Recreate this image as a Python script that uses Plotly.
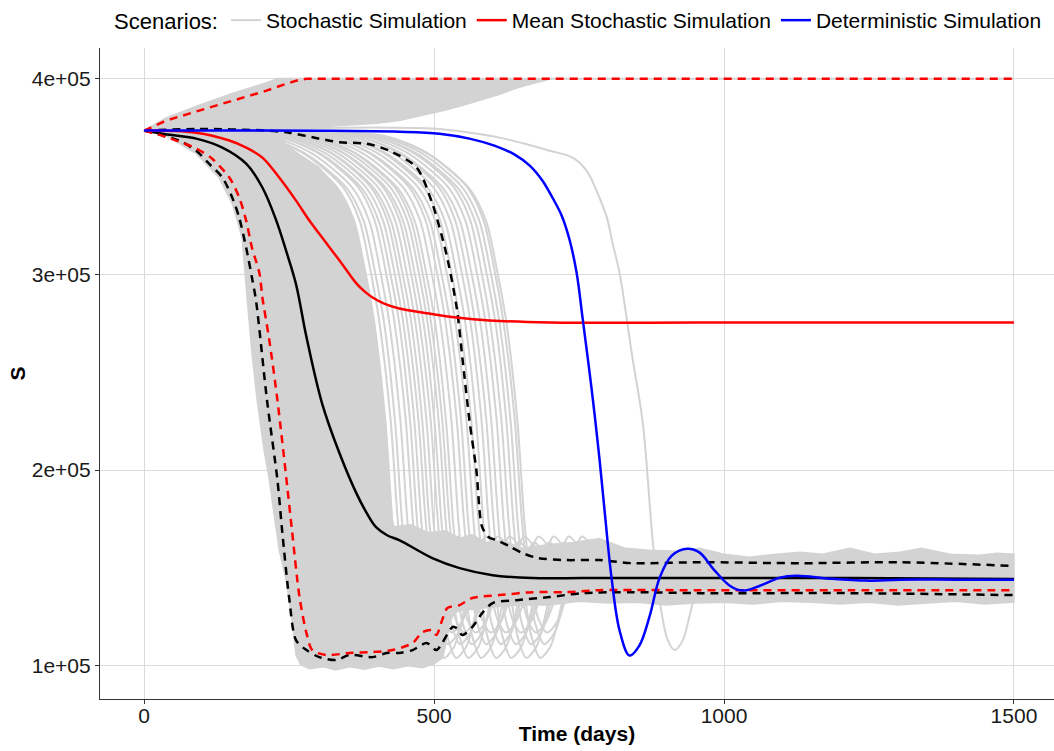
import plotly.graph_objects as go

# ---------------- data (days, S in thousands) ----------------
# Deterministic simulation
det_days = [0, 150, 300, 440, 509, 561, 604, 639, 665, 687, 704, 720, 734, 746, 756, 772, 785, 799,
            806, 820, 837, 854, 872, 889, 910, 937, 958, 984, 1010, 1032, 1062, 1096, 1125, 1182, 1246, 1303,
            1400, 1500]
det_S = [373.5, 373.5, 373.4, 372.9, 371.9, 369.4, 365.8, 361.2, 355.6, 347.9, 339.3, 330.1, 317.3, 300.5,
         278.0, 240.7, 206.5, 164.2, 145.0, 117.9, 105.2, 110.3, 125.6, 145.0, 156.3, 159.8,
         157.8, 148.6, 140.9, 138.4, 140.9, 145.0, 146.0, 144.5, 143.5, 144.0, 144.0, 144.0]

# Mean of stochastic simulations
mean_days = [0, 90, 147, 176, 204, 233, 262, 285, 307, 337, 366, 380, 394, 414, 440, 492, 539, 596, 699, 958,
             1200, 1500]
mean_S = [373.5, 372.4, 368.4, 364.8, 359.7, 349.5, 337.7, 327.5, 318.8, 307.1, 295.4, 291.3, 288.2, 285.1,
          282.6, 280.0, 278.0, 276.5, 275.4, 275.4, 275.4, 275.4]

# Mean quantile band (red dashed)
mean_up_days = [0, 38, 95, 152, 211, 245, 265, 280, 1500]
mean_up_S = [373.5, 378.6, 383.7, 388.8, 393.9, 397.4, 399.2, 400.0, 400.0]
mean_lo_days = [0, 31, 90, 117, 147, 164, 176, 186, 199, 204, 216, 230, 247, 255, 268, 280, 290, 314, 354,
                394, 428, 463, 480, 497, 504, 514, 523, 544, 566, 613, 670, 728, 785, 958, 1217, 1500]
mean_lo_S = [373.5, 370.9, 364.3, 359.2, 349.5, 339.3, 327.5, 313.7, 300.5, 288.2, 266.3, 235.6, 191.2, 169.3,
             135.1, 116.7, 108.0, 105.5, 106.5, 107.0, 108.0, 111.6, 117.2, 118.2, 115.7, 123.3, 129.5, 131.0,
             134.6, 136.1, 137.6, 137.6, 138.6, 138.6, 138.6, 138.6]

# Median of stochastic simulations (black)
med_days = [0, 31, 90, 135, 176, 204, 228, 245, 262, 280, 307, 337, 366, 383, 400, 419, 440, 497, 544, 601,
            670, 756, 842, 958, 1217, 1500]
med_S = [373.5, 371.9, 369.4, 364.8, 356.6, 344.4, 327.5, 312.0, 295.0, 268.0, 234.0, 208.6, 188.2, 178.5,
         170.8, 166.7, 164.2, 155.0, 149.9, 146.3, 144.8, 144.8, 144.8, 144.8, 144.8, 144.3]

# Median quantile band (black dashed)
q_up_days = [0, 95, 211, 250, 300, 337, 383, 423, 470, 497, 521, 539, 549, 561, 573, 583, 595, 608, 630, 653,
             680, 728, 785, 842, 958, 1131, 1303, 1500]
q_up_S = [373.5, 374.3, 373.5, 372.4, 369.5, 367.5, 366.8, 363.2, 354.6, 336.2, 310.7, 283.1, 257.0, 225.4,
          199.9, 170.8, 165.5, 164.2, 161.0, 157.5, 155.0, 154.0, 154.0, 152.4, 152.9, 152.4, 152.9, 151.0]
q_lo_days = [0, 60, 90, 112, 135, 152, 164, 176, 186, 193, 212, 230, 238, 250, 262, 280, 302, 331, 354, 394,
             418, 440, 463, 487, 504, 514, 532, 539, 549, 566, 583, 601, 642, 699, 756, 842, 958, 1217, 1500]
q_lo_S = [373.5, 368.4, 363.2, 356.6, 349.5, 339.3, 329.0, 313.7, 298.4, 286.7, 235.6, 194.8, 169.3, 135.1,
          113.1, 108.0, 104.4, 102.9, 105.5, 104.4, 106.5, 106.5, 108.0, 111.6, 108.0, 111.6, 119.8, 119.2,
          115.7, 119.8, 126.9, 132.0, 133.5, 135.1, 137.1, 137.6, 137.1, 137.1, 136.1]

# Envelope of the dense mass of early-crashing stochastic runs
dense_days = [0, 38, 90, 129, 152, 169, 178, 186, 195, 207, 216, 233, 245, 255, 262, 270, 285, 310, 330, 355,
              380, 405, 430, 455, 480, 500, 515, 525, 530, 500, 460, 440, 428, 416, 397, 381, 362, 333, 300,
              264, 230, 150, 0]
dense_S = [373.5, 370.9, 361.7, 349.5, 336.2, 318.8, 286.7, 260.0, 235.6, 210.1, 194.8, 159.1, 143.8, 123.3,
           105.5, 100.5, 98.5, 99.5, 97.8, 99.5, 98.2, 99.8, 98.5, 100.0, 99.0, 101.0, 104.0, 118.0, 128.0,
           145.0, 150.0, 158.0, 174.0, 225.0, 275.0, 302.0, 327.5, 344.4, 355.0, 362.0, 370.0, 373.0, 373.5]

# Envelope of runs that grow to the 400k ceiling
fan_days = [0, 38, 95, 152, 211, 230, 700, 690, 670, 640, 613, 580, 556, 520, 497, 470, 440, 400, 354, 300,
            200, 100, 0]
fan_S = [373.5, 380.0, 386.5, 392.5, 398.0, 400.0, 400.0, 399.0, 397.5, 395.0, 392.0, 389.0, 387.0, 384.0,
         382.5, 380.5, 378.6, 377.2, 376.3, 375.3, 374.3, 373.8, 373.5]
ceil_days = [228, 1500]
ceil_S = [400.0, 400.0]

# Envelope of the long-run endemic band
band_days = [430, 460, 490, 520, 545, 565, 590, 620, 650, 699, 740, 785, 830, 872, 920, 958, 1000, 1044, 1090,
             1131, 1170, 1217, 1260, 1303, 1340, 1390, 1440, 1470, 1500,
             1500, 1450, 1400, 1350, 1300, 1250, 1200, 1150, 1100, 1050, 1000, 950, 900, 850, 800, 750, 700,
             650, 600, 570, 545, 520, 500, 480, 430]
band_S = [171.0, 172.0, 168.0, 169.0, 165.0, 167.0, 163.0, 164.0, 160.0, 162.0, 163.0, 165.0, 160.0, 159.0,
          158.5, 160.0, 157.0, 155.5, 157.0, 158.0, 157.0, 160.0, 157.0, 158.0, 160.0, 157.0, 156.5, 157.5, 157.0,
          132.5, 131.5, 133.0, 132.0, 131.0, 132.5, 131.5, 132.5, 133.0, 131.5, 132.5, 132.0, 131.0, 132.5,
          132.0, 133.0, 131.0, 131.0, 130.0, 129.0, 128.0, 126.0, 122.0, 118.0, 150.0]

# Individual stochastic runs crashing later (days of each run)
late_days = [
    [0, 97, 197, 264, 333, 362, 381, 397, 416, 428, 439, 452, 467, 485, 507, 532, 567],
    [0, 106, 206, 273, 342, 371, 390, 406, 425, 437, 448, 461, 476, 494, 516, 541, 576],
    [0, 114, 214, 281, 350, 379, 398, 414, 433, 445, 456, 469, 484, 502, 524, 549, 584],
    [0, 123, 223, 290, 359, 388, 407, 423, 442, 454, 465, 478, 493, 511, 533, 558, 593],
    [0, 132, 232, 299, 368, 397, 416, 432, 451, 463, 474, 487, 502, 520, 542, 567, 602],
    [0, 140, 240, 307, 376, 405, 424, 440, 459, 471, 482, 495, 510, 528, 550, 575, 610],
    [0, 147, 247, 314, 383, 412, 431, 447, 466, 478, 489, 502, 517, 535, 557, 582, 617],
    [0, 154, 254, 321, 390, 419, 438, 454, 473, 485, 496, 509, 524, 542, 564, 589, 624],
    [0, 161, 261, 328, 397, 426, 445, 461, 480, 492, 503, 516, 531, 549, 571, 596, 631],
    [0, 168, 268, 335, 404, 433, 452, 468, 487, 499, 510, 523, 538, 556, 578, 603, 638],
    [0, 175, 275, 342, 411, 440, 459, 475, 494, 506, 517, 530, 545, 563, 585, 610, 645],
    [0, 182, 282, 349, 418, 447, 466, 482, 501, 513, 524, 537, 552, 570, 592, 617, 652],
    [0, 189, 289, 356, 425, 454, 473, 489, 508, 520, 531, 544, 559, 577, 599, 624, 659],
    [0, 195, 295, 362, 431, 460, 479, 495, 514, 526, 537, 550, 565, 583, 605, 630, 665],
    [0, 202, 302, 369, 438, 467, 486, 502, 521, 533, 544, 557, 572, 590, 612, 637, 672],
    [0, 211, 311, 378, 447, 476, 495, 511, 530, 542, 553, 566, 581, 599, 621, 646, 681],
    [0, 220, 320, 387, 456, 485, 504, 520, 539, 551, 562, 575, 590, 608, 630, 655, 690],
    [0, 228, 328, 395, 464, 493, 512, 528, 547, 559, 570, 583, 598, 616, 638, 663, 698],
    [0, 237, 337, 404, 473, 502, 521, 537, 556, 568, 579, 592, 607, 625, 647, 672, 707],
    [0, 245, 345, 412, 481, 510, 529, 545, 564, 576, 587, 600, 615, 633, 655, 680, 715],
    [0, 254, 354, 421, 490, 519, 538, 554, 573, 585, 596, 609, 624, 642, 664, 689, 724],
    [0, 263, 363, 430, 499, 528, 547, 563, 582, 594, 605, 618, 633, 651, 673, 698, 733],
    [0, 271, 371, 438, 507, 536, 555, 571, 590, 602, 613, 626, 641, 659, 681, 706, 741],
    [0, 280, 380, 447, 516, 545, 564, 580, 599, 611, 622, 635, 650, 668, 690, 715, 750],
    [0, 289, 389, 456, 525, 554, 573, 589, 608, 620, 631, 644, 659, 677, 699, 724, 759],
    [0, 297, 397, 464, 533, 562, 581, 597, 616, 628, 639, 652, 667, 685, 707, 732, 767],
    [0, 306, 406, 473, 542, 571, 590, 606, 625, 637, 648, 661, 676, 694, 716, 741, 776],
    [0, 313, 413, 480, 549, 578, 597, 613, 632, 644, 655, 668, 683, 701, 723, 748, 783],
    [0, 320, 420, 487, 556, 585, 604, 620, 639, 651, 662, 675, 690, 708, 730, 755, 790],
    [0, 325, 425, 492, 561, 590, 609, 625, 644, 656, 667, 680, 695, 713, 735, 760, 795],
]
# S profiles of those runs (three depths of undershoot, used in turn)
late_S_profiles = [
    [373.5, 373.0, 370.0, 361.7, 344.4, 327.5, 302.0, 275.0, 225.0, 174.0, 140.0, 115.0, 104.0, 110.0, 135.0, 163.0, 150.0],
    [373.5, 373.2, 370.4, 362.2, 345.0, 328.0, 302.5, 275.0, 226.0, 176.0, 143.0, 121.0, 111.0, 117.0, 139.0, 166.0, 152.0],
    [373.5, 372.8, 369.6, 361.2, 343.8, 327.0, 301.5, 275.0, 224.0, 173.0, 142.0, 124.0, 117.0, 123.0, 141.0, 160.0, 148.0],
]

# The single very late run
outlier_days = [0, 150, 300, 420, 497, 560, 613, 660, 699, 739, 763, 785, 798, 808, 820, 842, 860, 877, 889,
                903, 915, 929, 941, 953, 975, 1000]
outlier_S = [373.5, 374.0, 374.8, 375.0, 374.5, 372.5, 369.9, 366.5, 363.2, 359.7, 353.0, 339.3, 329.0, 315.7,
             300.5, 257.6, 223.9, 164.2, 133.5, 113.1, 108.0, 113.1, 125.9, 137.6, 141.2, 145.0]

x_ticks = [0, 500, 1000, 1500]
y_ticks = [100000, 200000, 300000, 400000]
y_tick_text = ["1e+05", "2e+05", "3e+05", "4e+05"]

GRAY = "#D3D3D3"
FONT = "Liberation Sans, Arial, sans-serif"


def k(vals):
    return [v * 1000 for v in vals]


fig = go.Figure()

# gray envelopes
for dx, dy in [(fan_days, fan_S), (dense_days, dense_S), (band_days, band_S)]:
    fig.add_trace(go.Scatter(x=dx, y=k(dy), mode="lines", fill="toself", fillcolor=GRAY,
                             line=dict(color=GRAY, width=1.5), hoverinfo="skip", showlegend=False))
fig.add_trace(go.Scatter(x=ceil_days, y=k(ceil_S), mode="lines", line=dict(color=GRAY, width=2),
                         showlegend=False, hoverinfo="skip"))
for i, dx in enumerate(late_days):
    dy = late_S_profiles[i % 3]
    fig.add_trace(go.Scatter(x=dx, y=k(dy), mode="lines",
                             line=dict(color=GRAY, width=2, shape="spline", smoothing=0.8),
                             name="Stochastic Simulation", showlegend=(i == 0), legendrank=1,
                             hoverinfo="skip"))
fig.add_trace(go.Scatter(x=outlier_days, y=k(outlier_S), mode="lines",
                         line=dict(color=GRAY, width=2, shape="spline", smoothing=1.0),
                         showlegend=False, hoverinfo="skip"))

DASH = "8px,6px"
LW = 2.5
# black: median and its quantiles
for dx, dy in [(q_up_days, q_up_S), (q_lo_days, q_lo_S)]:
    fig.add_trace(go.Scatter(x=dx, y=k(dy), mode="lines",
                             line=dict(color="black", width=LW, dash=DASH, shape="spline", smoothing=0.8),
                             showlegend=False))
fig.add_trace(go.Scatter(x=med_days, y=k(med_S), mode="lines",
                         line=dict(color="black", width=LW, shape="spline", smoothing=1.0),
                         showlegend=False))
# red: mean and its band
fig.add_trace(go.Scatter(x=mean_up_days, y=k(mean_up_S), mode="lines",
                         line=dict(color="red", width=LW, dash=DASH),
                         showlegend=False))
fig.add_trace(go.Scatter(x=mean_lo_days, y=k(mean_lo_S), mode="lines",
                         line=dict(color="red", width=LW, dash=DASH, shape="spline", smoothing=0.8),
                         showlegend=False))
fig.add_trace(go.Scatter(x=mean_days, y=k(mean_S), mode="lines",
                         line=dict(color="red", width=LW, shape="spline", smoothing=1.0),
                         name="Mean Stochastic Simulation", legendrank=2))
# blue: deterministic
fig.add_trace(go.Scatter(x=det_days, y=k(det_S), mode="lines",
                         line=dict(color="blue", width=LW, shape="spline", smoothing=1.0),
                         name="Deterministic Simulation", legendrank=3))

axis_common = dict(showgrid=True, gridcolor="#DADADA", gridwidth=1, zeroline=False,
                   showline=True, linecolor="#333333", linewidth=1.2,
                   ticks="outside", ticklen=4, tickcolor="#333333",
                   tickfont=dict(family=FONT, size=21, color="#1a1a1a"))

fig.update_layout(
    width=1054, height=751,
    margin=dict(l=100, r=0, t=47, b=52),
    plot_bgcolor="white", paper_bgcolor="white",
    font=dict(family=FONT, size=21, color="black"),
    xaxis=dict(range=[-76, 1569], tickvals=x_ticks, ticklabelstandoff=-6,
               title=dict(text="<b>Time (days)</b>", font=dict(family=FONT, size=21), standoff=0),
               **axis_common),
    yaxis=dict(range=[83000, 415700], tickvals=y_ticks, ticktext=y_tick_text,
               title=dict(text="<b>S</b>", font=dict(family=FONT, size=21), standoff=0),
               **axis_common),
    legend=dict(orientation="h", x=0.9927, xanchor="right", y=1.0415, yanchor="middle",
                title=dict(text="Scenarios:", font=dict(family=FONT, size=22)),
                font=dict(family=FONT, size=21), itemwidth=30, bgcolor="rgba(0,0,0,0)"),
    showlegend=True,
)

fig.write_html("out.html", config={"displayModeBar": False},
               post_script="document.body.style.margin='0px';")
